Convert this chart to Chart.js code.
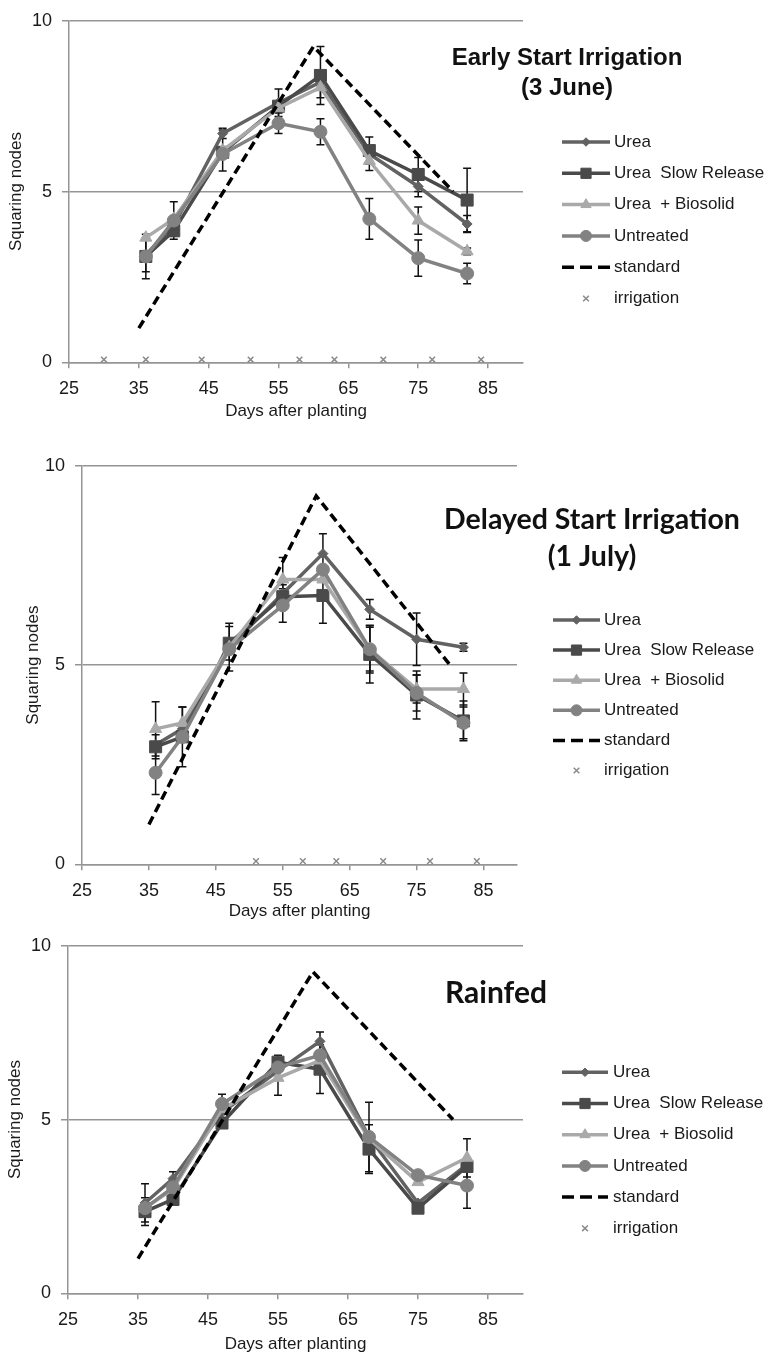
<!DOCTYPE html>
<html>
<head>
<meta charset="utf-8">
<script src="https://cdn.jsdelivr.net/npm/chart.js@4.4.0/dist/chart.umd.min.js"></script>
<style>
html,body{margin:0;padding:0;background:#fff}
body{width:768px;height:1356px;position:relative;overflow:hidden}
canvas{position:absolute;left:0}
</style>
</head>
<body>
<canvas id="early" width="768" height="430" style="top:0px"></canvas>
<canvas id="delayed" width="768" height="500" style="top:430px"></canvas>
<canvas id="rainfed" width="768" height="431" style="top:925px"></canvas>
<script>
// squaring nodes vs days after planting, three irrigation regimes

const days = [36, 40, 47, 55, 61, 68, 75, 82]
const xTicks = [25, 35, 45, 55, 65, 75, 85]
const yTicks = [0, 5, 10]
const seriesNames = ["Urea", "Urea  Slow Release", "Urea  + Biosolid", "Untreated"]

const standardDays = [35, 60, 80]
const standardNodes = [1, 9.25, 5]

// early start irrigation (3 June)
const earlyUrea = [3.15, 4.0, 6.7, 7.6, 8.2, 6.1, 5.15, 4.05]
const earlySlow = [3.1, 3.85, 6.15, 7.5, 8.4, 6.2, 5.5, 4.75]
const earlyBio = [3.65, 4.2, 6.2, 7.45, 8.05, 5.9, 4.15, 3.25]
const earlyNone = [3.1, 4.15, 6.1, 7.0, 6.75, 4.2, 3.05, 2.6]
const earlyUreaErr = [0.5, null, 0.15, 0.4, null, null, 0.3, 0.25]
const earlySlowErr = [0.65, 0.25, null, null, 0.85, 0.4, 0.5, 0.93]
const earlyBioErr = [null, 0.5, 0.6, null, 0.3, 0.28, 0.4, 0.1]
const earlyNoneErr = [null, null, null, 0.3, 0.38, 0.6, 0.53, 0.3]
const earlyIrrigation = [30, 36, 44, 51, 58, 63, 70, 77, 84]

// delayed start irrigation (1 July)
const delayedUrea = [3.0, 3.4, 5.45, 6.8, 7.8, 6.4, 5.65, 5.45]
const delayedSlow = [2.95, 3.2, 5.55, 6.72, 6.75, 5.27, 4.25, 3.6]
const delayedBio = [3.4, 3.55, 5.45, 7.15, 7.15, 5.4, 4.4, 4.4]
const delayedNone = [2.3, 3.2, 5.4, 6.5, 7.4, 5.4, 4.3, 3.55]
const delayedUreaErr = [null, null, 0.6, null, 0.5, 0.25, 0.66, 0.1]
const delayedSlowErr = [0.3, null, 0.42, 0.3, 0.7, 0.72, 0.6, 0.5]
const delayedBioErr = [0.68, 0.4, null, 0.55, null, 0.55, 0.35, 0.4]
const delayedNoneErr = [0.55, 0.75, null, 0.42, null, 0.6, 0.45, 0.4]
const delayedIrrigation = [51, 58, 63, 70, 77, 84]

// rainfed
const rainUrea = [2.6, 3.3, 5.2, 6.4, 7.25, 4.5, 2.6, 3.7]
const rainSlow = [2.35, 2.7, 4.9, 6.65, 6.45, 4.15, 2.45, 3.65]
const rainBio = [2.45, 3.0, 5.3, 6.2, 6.7, 4.45, 3.2, 3.9]
const rainNone = [2.45, 3.05, 5.45, 6.5, 6.85, 4.5, 3.4, 3.1]
const rainUreaErr = [0.55, 0.2, null, null, 0.27, 1.0, null, null]
const rainSlowErr = [0.4, null, null, 0.2, 0.7, 0.7, 0.1, null]
const rainBioErr = [null, null, null, 0.5, null, null, null, 0.55]
const rainNoneErr = [null, null, 0.28, null, null, null, null, 0.65]
const rainIrrigation = []

const irrigationLevel = 0.08

const gridColor = "#959595"
const textColor = "#1a1a1a"
const seriesColors = ["#626262", "#4a4a4a", "#a9a9a9", "#828282"]
const seriesStyles = ["rectRot", "rect", "triangle", "circle"]
const seriesRadius = [5, 8.5, 7, 6.5]

function pts(xs, ys) {
  return xs.map((x, i) => ({x: x, y: ys[i]}))
}

const errorBars = {
  id: "errorBars",
  beforeDatasetsDraw(chart) {
    const ctx = chart.ctx
    const xs = chart.scales.x, ys = chart.scales.y
    ctx.save()
    ctx.strokeStyle = "#111"
    ctx.lineWidth = 1.5
    chart.data.datasets.forEach(ds => {
      if (!ds.errors) return
      ds.data.forEach((p, i) => {
        const e = ds.errors[i]
        if (e == null) return
        const px = xs.getPixelForValue(p.x)
        const y1 = ys.getPixelForValue(p.y + e)
        const y2 = ys.getPixelForValue(p.y - e)
        ctx.beginPath()
        ctx.moveTo(px, y1); ctx.lineTo(px, y2)
        ctx.moveTo(px - 4, y1); ctx.lineTo(px + 4, y1)
        ctx.moveTo(px - 4, y2); ctx.lineTo(px + 4, y2)
        ctx.stroke()
      })
    })
    ctx.restore()
  }
}

const sidePanel = {
  id: "sidePanel",
  afterDraw(chart) {
    const o = chart.config.options.sideInfo
    const ctx = chart.ctx
    ctx.save()
    ctx.fillStyle = "#111"
    ctx.textAlign = "center"
    ctx.textBaseline = "middle"
    ctx.font = o.titleFont
    o.title.forEach((t, i) => ctx.fillText(t, o.titleX, o.titleY + i * o.titleGap))

    ctx.textAlign = "left"
    ctx.font = "17px 'Liberation Sans', Arial, sans-serif"
    chart.data.datasets.forEach((ds, i) => {
      const y = o.legendY + i * o.legendGap
      const cx = (o.legendX1 + o.legendX2) / 2
      if (ds.showLine !== false) {
        ctx.strokeStyle = ds.borderColor
        ctx.lineWidth = ds.borderWidth
        ctx.setLineDash(ds.legendDash || [])
        ctx.beginPath()
        ctx.moveTo(o.legendX1, y)
        ctx.lineTo(o.legendX2, y)
        ctx.stroke()
        ctx.setLineDash([])
      }
      if (ds.pointRadius > 0) {
        ctx.fillStyle = ds.pointBackgroundColor
        ctx.strokeStyle = ds.pointBorderColor
        ctx.lineWidth = ds.pointBorderWidth
        Chart.helpers.drawPoint(ctx, {pointStyle: ds.pointStyle, radius: ds.legendRadius || ds.pointRadius, rotation: 0, borderWidth: ds.pointBorderWidth}, cx, y)
      }
      ctx.fillStyle = textColor
      ctx.fillText(ds.label, o.legendTextX, y)
    })
    ctx.restore()
  }
}

function makePanel(id, series, errors, irrigation, box, side) {
  const datasets = series.map((vals, k) => ({
    label: seriesNames[k],
    data: pts(days, vals),
    errors: errors[k],
    borderColor: seriesColors[k],
    backgroundColor: seriesColors[k],
    pointBackgroundColor: seriesColors[k],
    pointBorderColor: seriesColors[k],
    pointBorderWidth: 1,
    borderWidth: 3.5,
    pointStyle: seriesStyles[k],
    pointRadius: seriesRadius[k],
    legendRadius: seriesRadius[k] * 0.85,
    tension: 0,
    order: 5 - k
  }))
  datasets.push({
    label: "standard",
    data: pts(standardDays, standardNodes),
    borderColor: "#000",
    borderWidth: 3.5,
    borderDash: [9, 5],
    legendDash: [12, 6],
    pointRadius: 0,
    tension: 0,
    order: 1
  })
  datasets.push({
    label: "irrigation",
    data: irrigation.map(d => ({x: d, y: irrigationLevel})),
    showLine: false,
    pointStyle: "crossRot",
    pointRadius: 4,
    legendRadius: 4,
    pointBorderWidth: 1.5,
    pointBorderColor: "#8a8a8a",
    pointBackgroundColor: "#8a8a8a",
    borderColor: "#8a8a8a",
    clip: false,
    order: 0
  })

  const H = document.getElementById(id).height

  new Chart(document.getElementById(id).getContext("2d"), {
    type: "line",
    data: {datasets: datasets},
    plugins: [errorBars, sidePanel],
    options: {
      responsive: false,
      animation: false,
      events: [],
      sideInfo: side,
      layout: {padding: {top: box.top, right: 768 - box.right, left: 0, bottom: 0}},
      plugins: {legend: {display: false}, tooltip: {enabled: false}},
      scales: {
        x: {
          type: "linear",
          min: 25,
          max: 90,
          afterBuildTicks: s => { s.ticks = xTicks.map(v => ({value: v})) },
          afterFit: s => { s.height = H - box.bottom },
          grid: {drawOnChartArea: false, drawTicks: true, tickLength: 6, color: gridColor, lineWidth: 1.5},
          border: {display: true, color: gridColor, width: 1.5},
          ticks: {color: textColor, padding: 10, font: {family: "'Liberation Sans', Arial, sans-serif", size: 18}, maxRotation: 0},
          title: {display: true, text: "Days after planting", color: textColor, font: {family: "'Liberation Sans', Arial, sans-serif", size: 17}, padding: {top: 0, bottom: box.xTitlePad}}
        },
        y: {
          min: 0,
          max: 10,
          afterBuildTicks: s => { s.ticks = yTicks.map(v => ({value: v})) },
          afterFit: s => { s.width = box.left },
          grid: {drawTicks: true, tickLength: 7, color: gridColor, lineWidth: 1.5},
          border: {display: true, color: gridColor, width: 1.5},
          ticks: {color: textColor, padding: 10, font: {family: "'Liberation Sans', Arial, sans-serif", size: 18}},
          title: {display: true, text: "Squaring nodes", color: textColor, font: {family: "'Liberation Sans', Arial, sans-serif", size: 17}, padding: {top: box.yTitlePad, bottom: 0}}
        }
      }
    }
  })
}

makePanel("early",
  [earlyUrea, earlySlow, earlyBio, earlyNone],
  [earlyUreaErr, earlySlowErr, earlyBioErr, earlyNoneErr],
  earlyIrrigation,
  {left: 69, right: 523, top: 14, bottom: 362.3, xTitlePad: 8, yTitlePad: 6.5},
  {title: ["Early Start Irrigation", "(3 June)"], titleFont: "bold 24px 'Liberation Sans', Arial, sans-serif",
   titleX: 567, titleY: 58, titleGap: 30,
   legendX1: 562, legendX2: 610, legendTextX: 614, legendY: 142, legendGap: 31.3})

makePanel("delayed",
  [delayedUrea, delayedSlow, delayedBio, delayedNone],
  [delayedUreaErr, delayedSlowErr, delayedBioErr, delayedNoneErr],
  delayedIrrigation,
  {left: 82, right: 517, top: 36, bottom: 434.3, xTitlePad: 8, yTitlePad: 23},
  {title: ["Delayed Start Irrigation", "(1 July)"], titleFont: "bold 28.5px Lato, sans-serif",
   titleX: 592, titleY: 90, titleGap: 37,
   legendX1: 553, legendX2: 600, legendTextX: 604, legendY: 190, legendGap: 30.1})

makePanel("rainfed",
  [rainUrea, rainSlow, rainBio, rainNone],
  [rainUreaErr, rainSlowErr, rainBioErr, rainNoneErr],
  rainIrrigation,
  {left: 68, right: 523, top: 18.3, bottom: 368.3, xTitlePad: 1, yTitlePad: 5},
  {title: ["Rainfed"], titleFont: "bold 30px Lato, sans-serif",
   titleX: 496, titleY: 68, titleGap: 0,
   legendX1: 562, legendX2: 608, legendTextX: 613, legendY: 147.3, legendGap: 31.2})
</script>
</body>
</html>
